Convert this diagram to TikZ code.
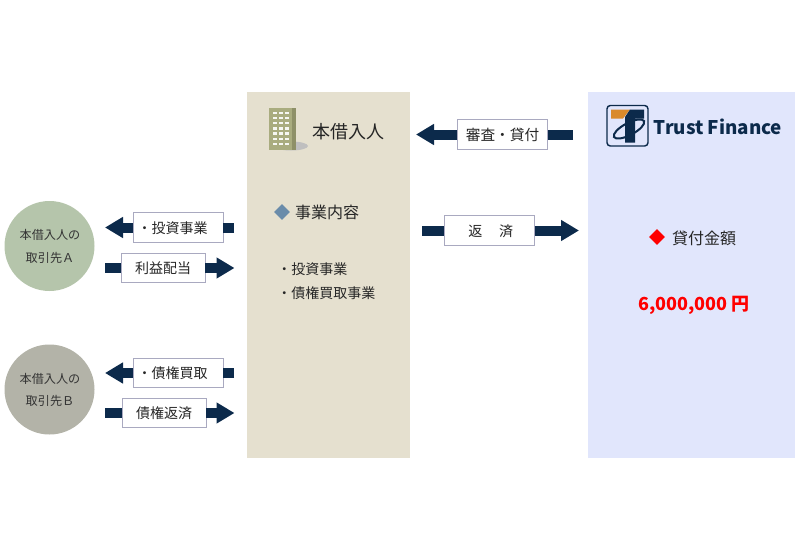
\documentclass[tikz,border=0pt]{standalone}
\usepackage{fontspec}
\setmainfont{Noto Sans CJK JP}
\usetikzlibrary{arrows.meta,positioning,shapes.geometric}
\definecolor{navy}{HTML}{0C2A4B}
\definecolor{panelbeige}{HTML}{E5E0CF}
\definecolor{panelblue}{HTML}{E1E6FC}
\definecolor{boxline}{HTML}{A9A9C0}
\definecolor{bldg}{HTML}{A9AC7F}
\definecolor{bldgside}{HTML}{8E9068}
\definecolor{logoorange}{HTML}{D98A2B}
\definecolor{fillA}{HTML}{B5C5AB}
\definecolor{fillB}{HTML}{B3B3A8}
\definecolor{steel}{HTML}{6A8CAA}
\tikzset{
  panel/.style={draw=none, rectangle, inner sep=0pt},
  partner/.style={circle, draw=none, minimum size=67.5pt, inner sep=0pt},
  partnertext/.style={inner sep=0pt, align=center, font=\fontsize{9.1}{17}\selectfont, text=black!80},
  labelbox/.style={rectangle, draw=boxline, line width=0.7pt, fill=white, minimum height=22pt, inner sep=0pt, text height=9.4pt, text depth=1pt, font=\fontsize{10.5}{12}\selectfont, text=black!85},
  shaft/.style={draw=navy, line width=7.5pt},
  flow/.style={draw=navy, line width=7.5pt, -{Triangle[length=13.5pt,width=15pt]}},
  bullet/.style={diamond, draw=none, minimum size=12pt, inner sep=0pt},
  plain/.style={inner sep=0pt, text=black!85}
}
\begin{document}
\begin{tikzpicture}[x=0.75pt,y=-0.75pt]
  \useasboundingbox (0,0) rectangle (800,550);
  % panels
  \node[panel, fill=panelbeige, minimum width=122.25pt, minimum height=274.5pt] (borrower) at (328.5,275) {};
  \node[panel, fill=panelblue, minimum width=155.25pt, minimum height=274.5pt] (lender) at (691.5,275) {};
  % partners
  \node[partner, fill=fillA] (partnerA) at (49.5,246) {};
  \node[partner, fill=fillB] (partnerB) at (49.5,389.5) {};
  \node[partnertext] (partnerAtext) at (50,246.5) {本借入人の\\取引先Ａ};
  \node[partnertext] (partnerBtext) at (50,390) {本借入人の\\取引先Ｂ};
  % building
  \fill[black!25] (291,146) ellipse (17 and 4.5);
  \fill[bldg] (269,108) rectangle (292,150);
  \fill[bldgside] (292,108) rectangle (296,150);
  \foreach \j in {0,...,6} {
    \foreach \i in {0,1,2} {
      \fill[white!90!bldg] (272.5+\i*6,111.5+\j*5.2) rectangle (277+\i*6,114+\j*5.2);
    }
  }
  \node[plain, font=\fontsize{13.5}{14}\selectfont] (borrowertitle) at (348,131.5) {本借入人};
  % borrower text
  \node[bullet, fill=steel] (bulletwork) at (282,212) {};
  \node[plain, font=\fontsize{12}{14}\selectfont] (worktitle) at (327,212.5) {事業内容};
  \node[plain, anchor=west, font=\fontsize{10.5}{12}\selectfont] (workone) at (277,269.5) {・投資事業};
  \node[plain, anchor=west, font=\fontsize{10.5}{12}\selectfont] (worktwo) at (277,293.5) {・債権買取事業};
  % logo
  \draw[navy, line width=1.1pt, rounded corners=2.5pt, fill=panelblue] (607,105.5) rectangle (648,146);
  \fill[logoorange] (611,109.5) -- (630,109.5) -- (623,118.5) -- (611,118.5) -- cycle;
  \draw[navy, line width=1.5pt, rotate around={28:(629,129)}] (629,129) ellipse (17 and 6);
  \fill[navy] (630,109.5) -- (644,109.5) -- (644,118.5) -- (635,118.5) -- (635,142.5) -- (625,142.5) -- (625,117) -- cycle;
  \node[plain, text=navy, font=\fontsize{14.1}{16}\selectfont\bfseries] (logotext) at (718,127) {Trust Finance};
  % lender text
  \node[bullet, fill=red] (bulletamount) at (657,237) {};
  \node[plain, font=\fontsize{12}{14}\selectfont] (amounttitle) at (704,238) {貸付金額};
  \node[plain, text=red, font=\fontsize{13.5}{16}\selectfont\bfseries] (amount) at (694,305.5) {6,000,000 円};
  % labels
  \node[labelbox, minimum width=67.5pt, font=\fontsize{11}{12}\selectfont] (review) at (502.5,134.5) {審査・貸付};
  \node[labelbox, minimum width=67.5pt] (repay) at (489.5,230.5) {\kern2pt返\hspace{1.2em}済};
  \node[labelbox, minimum width=67.5pt] (invest) at (178,227.5) {・投資事業\kern8pt};
  \node[labelbox, minimum width=63pt] (profit) at (163,268) {利益配当};
  \node[labelbox, minimum width=67.5pt] (buy) at (178,373) {・債権買取\kern8pt};
  \node[labelbox, minimum width=63pt] (back) at (164,413) {債権返済};
  % connector ends
  \coordinate (review-tail) at (573,134.5);
  \coordinate (review-tip) at (416,134.5);
  \coordinate (repay-tail) at (422,230.5);
  \coordinate (repay-tip) at (579,230.5);
  \coordinate (invest-tail) at (234,227.5);
  \coordinate (invest-tip) at (105,227.5);
  \coordinate (profit-tail) at (105,268);
  \coordinate (profit-tip) at (234.5,268);
  \coordinate (buy-tail) at (234,373);
  \coordinate (buy-tip) at (105,373);
  \coordinate (back-tail) at (105,413);
  \coordinate (back-tip) at (234.5,413);
  % connectors
  \foreach \a in {review,repay,invest,profit,buy,back} {
    \draw[shaft] (\a-tail) -- (\a);
    \draw[flow] (\a) -- (\a-tip);
  }
\end{tikzpicture}
\end{document}
